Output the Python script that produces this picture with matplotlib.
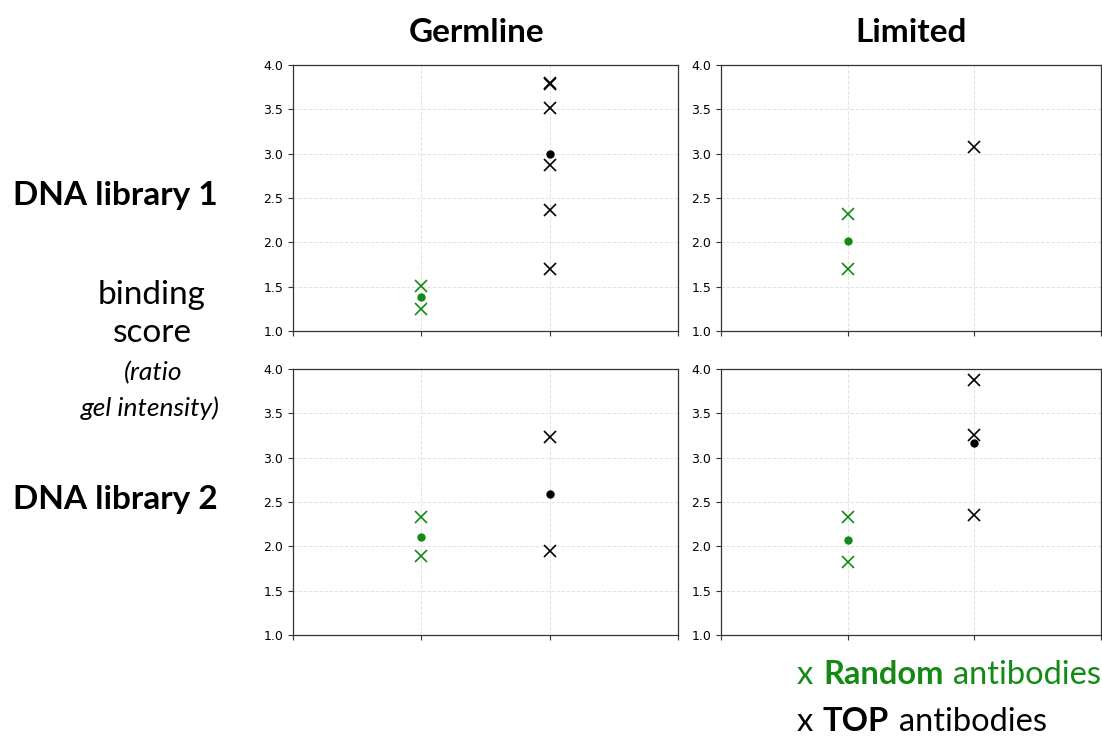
import matplotlib
matplotlib.use("Agg")
import matplotlib.pyplot as plt
from matplotlib.offsetbox import TextArea, HPacker, AnchoredOffsetbox

# ---- data ----
col_titles = ["Germline", "Limited"]
row_titles = ["DNA library 1", "DNA library 2"]
group_pos = [1, 2]  # Random, TOP
ylim = (1.0, 4.0)
yticks = [1.0, 1.5, 2.0, 2.5, 3.0, 3.5, 4.0]

# [row][col]
random_vals = [[[1.51, 1.25], [2.32, 1.70]],
               [[2.33, 1.89], [2.33, 1.82]]]
random_mean = [[1.38, 2.02], [2.11, 2.07]]
top_vals = [[[3.80, 3.79, 3.51, 2.87, 2.37, 1.70], [3.08]],
            [[3.23, 1.95], [3.88, 3.26, 2.35]]]
top_mean = [[3.00, float("nan")], [2.59, 3.17]]

GREEN = "#138a13"
W, H = 1102, 737
fig = plt.figure(figsize=(W / 100, H / 100), dpi=100)

lefts = [293, 721]
rights = [678, 1101]
tops = [65, 369]
bottoms = [331, 635]

for r in range(2):
    for c in range(2):
        ax = fig.add_axes([lefts[c] / W, 1 - bottoms[r] / H,
                           (rights[c] - lefts[c]) / W, (bottoms[r] - tops[r]) / H])
        ax.set_xlim(0, 3)
        ax.set_ylim(*ylim)
        ax.set_yticks(yticks)
        ax.set_xticks([0, 1, 2, 3])
        ax.set_xticklabels([])
        ax.tick_params(labelsize=9, length=3.5, width=0.8, color="#333333")
        ax.grid(True, linestyle="--", color="#e3e3e3", linewidth=0.7)
        ax.set_axisbelow(True)
        for s in ax.spines.values():
            s.set_color("#333333")
            s.set_linewidth(0.9)
        rv = random_vals[r][c]
        tv = top_vals[r][c]
        ax.plot([group_pos[0]] * len(rv), rv, linestyle="none", marker="x",
                color=GREEN, markersize=9, markeredgewidth=1.2)
        ax.plot([group_pos[0]], [random_mean[r][c]], linestyle="none", marker="o",
                color=GREEN, markersize=5)
        ax.plot([group_pos[1]] * len(tv), tv, linestyle="none", marker="x",
                color="black", markersize=9, markeredgewidth=1.2)
        ax.plot([group_pos[1]], [top_mean[r][c]], linestyle="none", marker="o",
                color="black", markersize=5)

FONT = "Lato"
# column titles
for c, x in enumerate([477, 911]):
    fig.text(x / W, 1 - 33 / H, col_titles[c],
             ha="center", va="center", fontsize=24, fontweight="bold", family=FONT)
# row titles
for r, y in enumerate([195, 499]):
    fig.text(115 / W, 1 - y / H, row_titles[r], ha="center", va="center",
             fontsize=24, fontweight="bold", family=FONT)

# y label
fig.text(152 / W, 1 - 295 / H, "binding", ha="center", va="center", fontsize=24, family=FONT)
fig.text(152 / W, 1 - 333 / H, "score", ha="center", va="center", fontsize=24, family=FONT)
fig.text(153 / W, 1 - 373 / H, "(ratio", ha="center", va="center", fontsize=19,
         style="italic", family=FONT)
fig.text(150 / W, 1 - 408 / H, "gel intensity)", ha="center", va="center", fontsize=19,
         style="italic", family=FONT)

# legend text
def legend_line(parts, y):
    boxes = [TextArea(t, textprops=dict(fontsize=23.5, family=FONT, color=col, fontweight=wt))
             for t, col, wt in parts]
    pack = HPacker(children=boxes, align="baseline", pad=0, sep=7)
    ab = AnchoredOffsetbox(loc="center left", child=pack, frameon=False,
                           bbox_to_anchor=(797 / W, 1 - y / H),
                           bbox_transform=fig.transFigure, borderpad=0, pad=0)
    fig.add_artist(ab)

legend_line([("x", GREEN, "normal"), ("Random", GREEN, "bold"),
             ("antibodies", GREEN, "normal")], 675)
legend_line([("x", "black", "normal"), ("TOP", "black", "bold"),
             ("antibodies", "black", "normal")], 722)

fig.savefig("out.png", dpi=100)
